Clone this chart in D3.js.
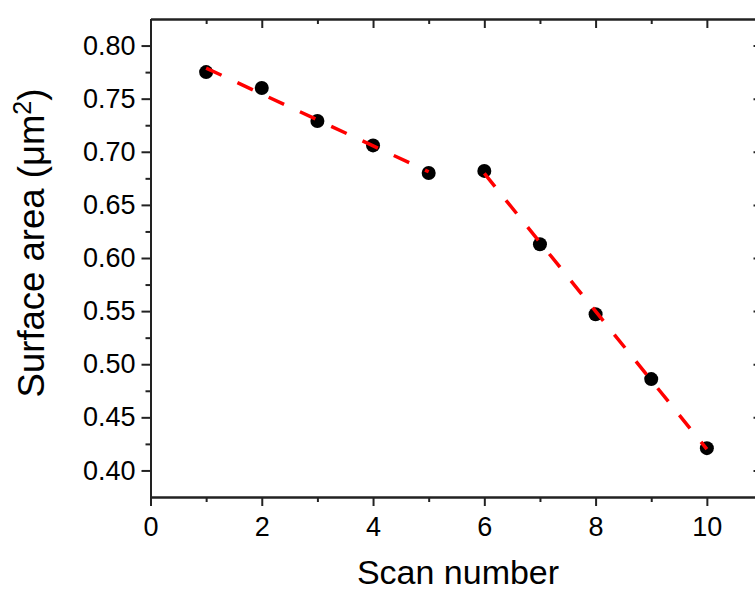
<!DOCTYPE html>
<html>
<head>
<meta charset="utf-8">
<script src="https://cdn.jsdelivr.net/npm/d3@7/dist/d3.min.js"></script>
<style>
  body { margin: 0; background: #fff; }
  svg { display: block; font-family: "Liberation Sans", Arial, sans-serif; }
</style>
</head>
<body>
<script>
// data
const scanNumbers = [1, 2, 3, 4, 5, 6, 7, 8, 9, 10];
const surfaceArea = [0.775, 0.760, 0.729, 0.706, 0.680, 0.682, 0.613, 0.547, 0.486, 0.421];
// the two stretches the dashed fit lines cover
const fitRanges = [[1, 5], [6, 10]];
const xTicks = [0, 2, 4, 6, 8, 10];
const xMinor = [1, 3, 5, 7, 9];
const yTicks = [0.40, 0.45, 0.50, 0.55, 0.60, 0.65, 0.70, 0.75, 0.80];
const yMinor = [0.425, 0.475, 0.525, 0.575, 0.625, 0.675, 0.725, 0.775];

const width = 755, height = 590;
const plotL = 150.5, plotT = 19, plotR = 762.5, plotB = 497;

const x = d3.scaleLinear().domain([0, 11]).range([plotL, plotR]);
const y = d3.scaleLinear().domain([0.375, 0.825]).range([plotB, plotT]);

const svg = d3.select(document.body).append("svg")
    .attr("width", width)
    .attr("height", height);

const points = scanNumbers.map((s, i) => ({x: s, y: surfaceArea[i]}));

// least squares line through each stretch
function fit(pts) {
  const mx = d3.mean(pts, d => d.x), my = d3.mean(pts, d => d.y);
  const slope = d3.sum(pts, d => (d.x - mx) * (d.y - my)) / d3.sum(pts, d => (d.x - mx) ** 2);
  const x0 = pts[0].x, x1 = pts[pts.length - 1].x;
  return [{x: x0, y: my + slope * (x0 - mx)}, {x: x1, y: my + slope * (x1 - mx)}];
}
const fits = fitRanges.map(r => fit(points.filter(p => p.x >= r[0] && p.x <= r[1])));

function styleAxis(g) {
  g.select(".domain").attr("stroke", "#222").attr("stroke-width", 2);
  g.selectAll(".tick line").attr("stroke", "#222").attr("stroke-width", 2);
  g.selectAll("text").attr("fill", "#000").attr("font-size", 27).attr("font-family", "Liberation Sans, Arial, sans-serif");
}

// bottom
svg.append("g").attr("transform", `translate(0,${plotB})`)
  .call(d3.axisBottom(x).tickValues(xTicks).tickSize(9).tickSizeOuter(0).tickPadding(11).tickFormat(d3.format("d")))
  .call(styleAxis);
svg.append("g").attr("transform", `translate(0,${plotB})`)
  .call(d3.axisBottom(x).tickValues(xMinor).tickSize(5).tickSizeOuter(0).tickFormat(""))
  .call(styleAxis);
// top (inward)
svg.append("g").attr("transform", `translate(0,${plotT})`)
  .call(d3.axisTop(x).tickValues(xTicks).tickSize(-9).tickSizeOuter(0).tickFormat(""))
  .call(styleAxis);
svg.append("g").attr("transform", `translate(0,${plotT})`)
  .call(d3.axisTop(x).tickValues(xMinor).tickSize(-5).tickSizeOuter(0).tickFormat(""))
  .call(styleAxis);
// left
svg.append("g").attr("transform", `translate(${plotL},0)`)
  .call(d3.axisLeft(y).tickValues(yTicks).tickSize(9).tickSizeOuter(0).tickPadding(6).tickFormat(d3.format(".2f")))
  .call(styleAxis);
svg.append("g").attr("transform", `translate(${plotL},0)`)
  .call(d3.axisLeft(y).tickValues(yMinor).tickSize(5).tickSizeOuter(0).tickFormat(""))
  .call(styleAxis);
// right (inward)
svg.append("g").attr("transform", `translate(${plotR},0)`)
  .call(d3.axisRight(y).tickValues(yTicks).tickSize(-9).tickSizeOuter(0).tickFormat(""))
  .call(styleAxis);
svg.append("g").attr("transform", `translate(${plotR},0)`)
  .call(d3.axisRight(y).tickValues(yMinor).tickSize(-5).tickSizeOuter(0).tickFormat(""))
  .call(styleAxis);

// points
svg.append("g")
  .selectAll("circle")
  .data(points)
  .join("circle")
    .attr("cx", d => x(d.x))
    .attr("cy", d => y(d.y))
    .attr("r", 7)
    .attr("fill", "#000");

// dashed fit lines, drawn over the points
const line = d3.line().x(d => x(d.x)).y(d => y(d.y));
svg.append("g")
  .selectAll("path")
  .data(fits)
  .join("path")
    .attr("d", line)
    .attr("fill", "none")
    .attr("stroke", "#ff0000")
    .attr("stroke-width", 3.5)
    .attr("stroke-dasharray", "17,17.5");

// axis titles
svg.append("text")
  .attr("x", 458)
  .attr("y", 584)
  .attr("text-anchor", "middle")
  .attr("font-size", 34)
  .text("Scan number");

const yt = svg.append("text")
  .attr("transform", "translate(44,243) rotate(-90)")
  .attr("text-anchor", "middle")
  .attr("font-size", 36.5);
yt.append("tspan").text("Surface area (μm");
yt.append("tspan").attr("font-size", 25).attr("dy", -13).text("2");
yt.append("tspan").attr("dy", 13).text(")");
</script>
</body>
</html>
